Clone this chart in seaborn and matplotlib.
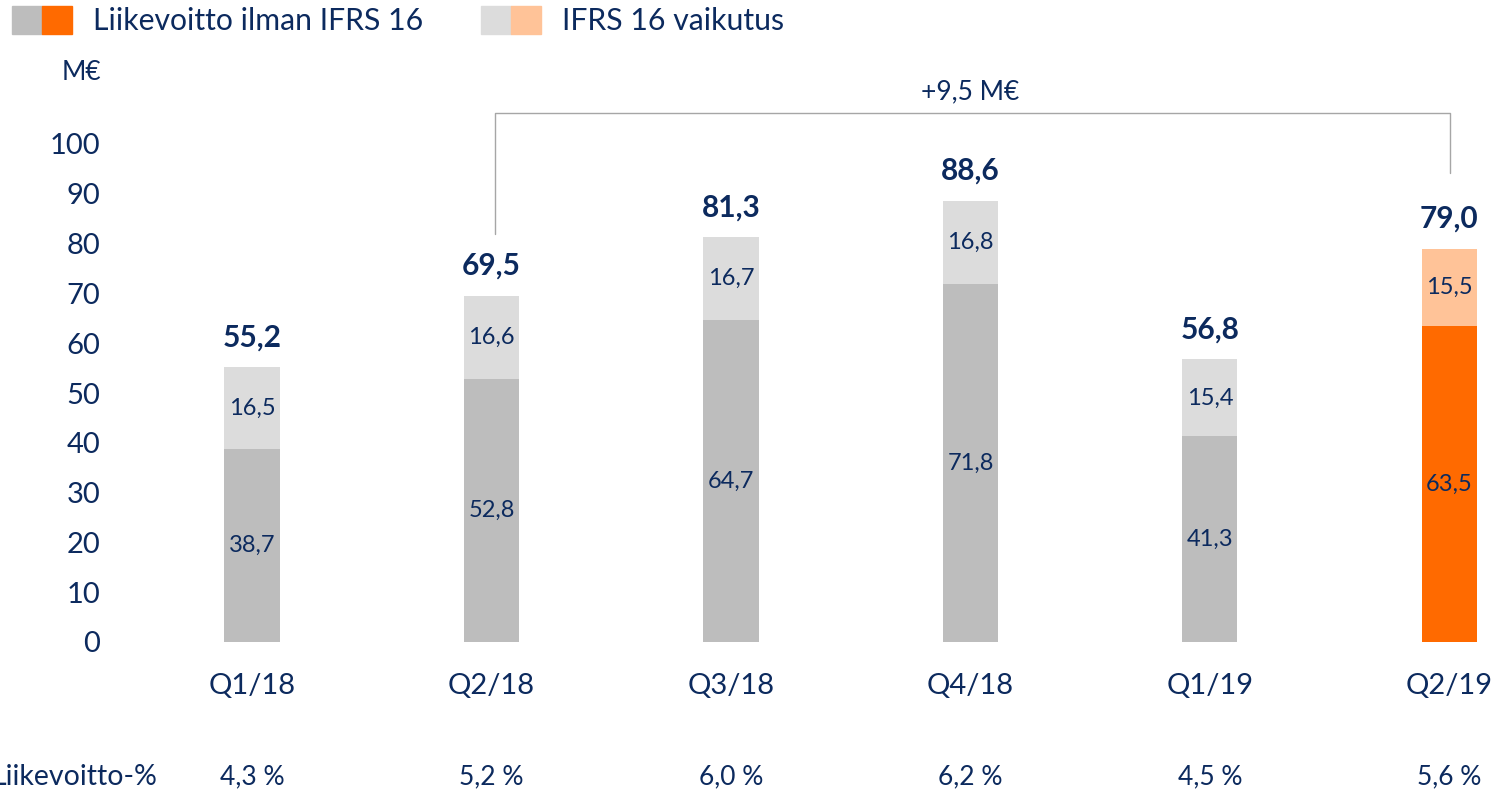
import pandas as pd
import seaborn as sns
import matplotlib.pyplot as plt
from matplotlib.patches import Patch
from matplotlib.legend_handler import HandlerTuple

sns.set_style("white")
plt.rcParams['font.family'] = ['Lato', 'DejaVu Sans']

# data
quarters = ['Q1/18', 'Q2/18', 'Q3/18', 'Q4/18', 'Q1/19', 'Q2/19']
base = [38.7, 52.8, 64.7, 71.8, 41.3, 63.5]      # liikevoitto ilman IFRS 16
ifrs = [16.5, 16.6, 16.7, 16.8, 15.4, 15.5]      # IFRS 16 vaikutus
totals = [55.2, 69.5, 81.3, 88.6, 56.8, 79.0]
margins = ['4,3 %', '5,2 %', '6,0 %', '6,2 %', '4,5 %', '5,6 %']
yticks = [0, 10, 20, 30, 40, 50, 60, 70, 80, 90, 100]

NAVY = '#0c2a5e'
base_cols = ['#bdbdbd'] * 5 + ['#ff6a00']
top_cols = ['#dcdcdc'] * 5 + ['#ffc398']

df = pd.DataFrame({'quarter': quarters, 'base': base, 'ifrs': ifrs, 'total': totals})


def fmt(v):
    return f'{v:.1f}'.replace('.', ',')


W, H = 1493, 794
fig = plt.figure(figsize=(W / 100, H / 100), dpi=100)
ax = fig.add_axes([110 / W, 152 / H, 1383 / W, 642 / H])

# stacked bars: full height in light colour, base drawn over it
sns.barplot(data=df, x='quarter', y='total', hue='quarter', palette=top_cols,
            width=0.23, legend=False, ax=ax, saturation=1, linewidth=0)
sns.barplot(data=df, x='quarter', y='base', hue='quarter', palette=base_cols,
            width=0.23, legend=False, ax=ax, saturation=1, linewidth=0)

ax.set_xlim(-0.593, 5.182)
ax.set_ylim(0, 642 / 4.98)
ax.set_yticks(yticks)
ax.set_yticklabels([str(t) for t in yticks], fontsize=21, color=NAVY)
ax.tick_params(axis='y', length=0, pad=7)
ax.tick_params(axis='x', length=0, pad=22, labelsize=21, labelcolor=NAVY)
ax.set_xlabel('')
ax.set_ylabel('')
for s in ax.spines.values():
    s.set_visible(False)

for i in range(len(quarters)):
    ax.text(i, base[i] / 2, fmt(base[i]), ha='center', va='center',
            fontsize=17, color=NAVY)
    ax.text(i, base[i] + ifrs[i] / 2, fmt(ifrs[i]), ha='center', va='center',
            fontsize=17, color=NAVY)
    ax.text(i, totals[i] + 3.2, fmt(totals[i]), ha='center', va='bottom',
            fontsize=21.5, fontweight='bold', color=NAVY)
    ax.text(i, -27.1, margins[i], ha='center', va='center', fontsize=19,
            color=NAVY, clip_on=False)

# the reference crops the first letter at the left edge as well
ax.text(-0.394, -27.1, 'Liikevoitto-%', ha='right', va='center', fontsize=20.5,
        color=NAVY, clip_on=False)

# bracket Q2/18 -> Q2/19
ax.plot([1.015, 1.015, 5.002, 5.002], [81.9, 106.2, 106.2, 94.2],
        color='#a6a6a6', lw=1.0, clip_on=False)
ax.text(3.0, 110.4, '+9,5 M€', ha='center', va='center', fontsize=19, color=NAVY)

fig.text(101 / W, 1 - 73 / H, 'M€', ha='right', va='center', fontsize=19, color=NAVY)

handles = [(Patch(color=base_cols[0]), Patch(color=base_cols[-1])),
           (Patch(color=top_cols[0]), Patch(color=top_cols[-1]))]
fig.legend(handles, ['Liikevoitto ilman IFRS 16', 'IFRS 16 vaikutus'],
           handler_map={tuple: HandlerTuple(ndivide=None, pad=0)},
           loc='upper left', bbox_to_anchor=(12 / W, 1 - 6 / H), ncol=2,
           frameon=False, fontsize=21.7, labelcolor=NAVY, borderpad=0,
           borderaxespad=0, handlelength=2.0, handleheight=1.03,
           handletextpad=0.7, columnspacing=1.9)

fig.savefig('out.png', dpi=100)
